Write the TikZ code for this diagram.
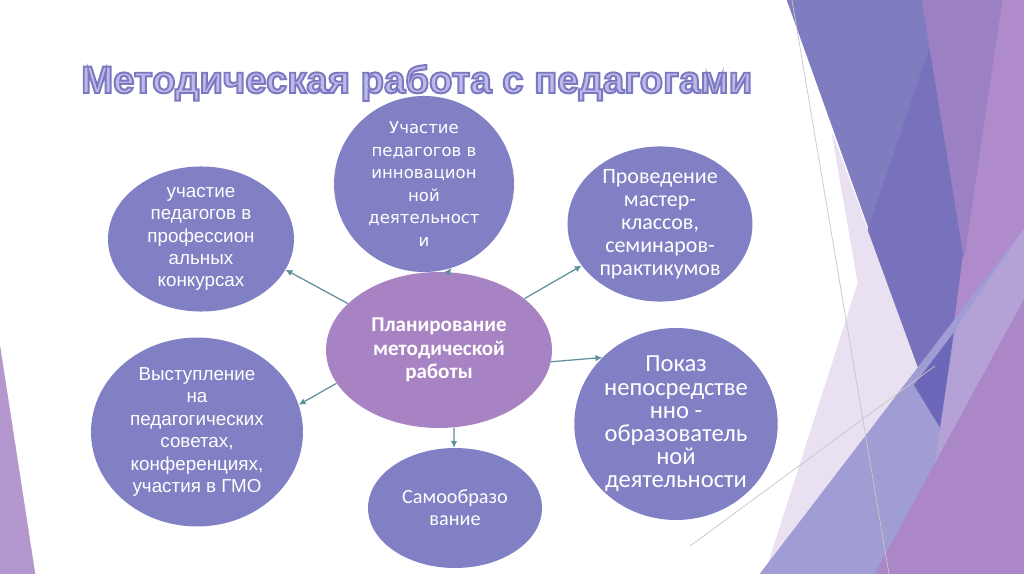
\documentclass[tikz,border=0pt]{standalone}
\usepackage{fontspec}
\setmainfont{Liberation Sans}
\newfontfamily\calfont{Carlito}
\newfontfamily\dvfont{DejaVu Sans}
\usepackage{tikz}
\usetikzlibrary{shapes.geometric}
\usetikzlibrary{arrows.meta}
\definecolor{ov-blue}{HTML}{8180C4}
\definecolor{ov-plan}{HTML}{A883C4}
\definecolor{ov-arrow}{HTML}{5E8F9B}
\definecolor{bg-blue}{HTML}{7F7CC0}
\definecolor{bg-dblue}{HTML}{7872BC}
\definecolor{bg-mpurp}{HTML}{9B80C4}
\definecolor{bg-lpurp}{HTML}{B08BCB}
\definecolor{bg-lav}{HTML}{E9E0F1}
\definecolor{bg-band}{HTML}{A09CD4}
\definecolor{bg-bandl}{HTML}{B4A1D5}
\definecolor{bg-deep}{HTML}{6C67B9}
\definecolor{bg-lr}{HTML}{AB87C8}
\definecolor{bg-side}{HTML}{B497CF}
\definecolor{title-fill}{HTML}{BDB9E8}
% outlined title text (stroke colour 7A78C0)
\newcommand{\outlined}[1]{\textcolor{title-fill}{%
  \special{pdf:literal direct 0.478 0.471 0.753 RG 1.1 w 2 Tr}#1%
  \special{pdf:literal direct 0 Tr}}}

\begin{document}
\begin{tikzpicture}[
    x=0.02cm, y=-0.02cm,
    >={Latex[length=3.8pt,width=3.8pt]}
  ]
  \tikzset{
    oval/.style={ellipse, fill=ov-blue, text=white, align=center, inner sep=0pt},
    arrow/.style={->, ov-arrow, line width=0.7pt},
    facet/.style={fill=#1, draw=#1, line width=0.3pt}
  }
  \useasboundingbox (0,0) rectangle (1024,574);
  \fill[white] (0,0) rectangle (1024,574);

  % background facets
  \path[facet=bg-side] (0,347) -- (35,574) -- (0,574) -- cycle;
  \path[facet=bg-lpurp] (997,0) -- (1024,0) -- (1024,574) -- (915,574) -- (936,427) -- (955,258) -- cycle;
  \path[facet=bg-lav] (832,133) -- (940,427) -- (919,574) -- (765,574) -- (858,283) -- cycle;
  \path[facet=bg-blue] (787,0) -- (922,0) -- (963,250) -- (940,427) -- cycle;
  \path[facet=bg-dblue] (930,47) -- (868,230) -- (940,427) -- (963,250) -- cycle;
  \path[facet=bg-mpurp] (922,0) -- (1002,0) -- (964,258) -- cycle;
  \path[facet=bg-band] (760,574) -- (1024,229) -- (1024,300) -- (875,574) -- cycle;
  \path[facet=bg-deep] (914.3,385) -- (953.2,334) -- (940,427) -- cycle;
  \path[facet=bg-bandl] (956,329) -- (1024,229) -- (1024,300) -- (935,463) -- cycle;
  \path[facet=bg-lr] (875,574) -- (1024,574) -- (1024,300) -- cycle;
  \draw[black!22, line width=0.4pt] (792,0) -- (889,574);
  \draw[black!22, line width=0.4pt] (690,546) -- (935,366);

  % title
  \node (title) [anchor=base west, font=\fontsize{21.8}{26}\selectfont\bfseries] at (75,93)
    {\outlined{Методическая работа с педагогами}};

  % ovals
  \node (plan) [oval, fill=ov-plan, minimum width=4.52cm, minimum height=3.12cm,
    font=\calfont\bfseries\fontsize{12}{13.3}\selectfont] at (439,350)
    {Планирование\\методической\\работы};
  \node (konk) [oval, minimum width=3.72cm, minimum height=2.76cm,
    font=\fontsize{10.7}{12.6}\selectfont] at (201,239)
    {участие\\педагогов в\\профессион\\альных\\конкурсах};
  \node (innov) [oval, minimum width=3.6cm, minimum height=2.84cm,
    font=\dvfont\fontsize{9.4}{12.8}\selectfont] at (424,184)
    {Участие\\педагогов в\\инновацион\\ной\\деятельност\\и};
  \node (master) [oval, minimum width=3.7cm, minimum height=3.04cm,
    font=\calfont\fontsize{12.5}{13.1}\selectfont] at (660,224)
    {Проведение\\мастер-\\классов,\\семинаров-\\практикумов};
  \node (pokaz) [oval, minimum width=4cm, minimum height=3.16cm,
    font=\calfont\fontsize{14}{13.2}\selectfont] at (676,424)
    {Показ\\непосредстве\\нно -\\образователь\\ной\\деятельности};
  \node (vyst) [oval, minimum width=4.24cm, minimum height=3.78cm,
    font=\fontsize{10.7}{12.8}\selectfont] at (197,432)
    {Выступление\\на\\педагогических\\советах,\\конференциях,\\участия в ГМО};
  \node (samo) [oval, minimum width=3.48cm, minimum height=2.4cm,
    font=\calfont\fontsize{11.5}{12.6}\selectfont] at (455,508)
    {Самообразо\\вание};

  % arrows
  \draw[arrow] (plan.153) -- (konk.340);
  \draw[arrow] (plan.83) -- (innov.288);
  \draw[arrow] (plan.31) -- (master.208);
  \draw[arrow] (plan.354) -- (pokaz.138);
  \draw[arrow] (plan.198) -- (vyst.15);
  \draw[arrow] (plan.281) -- (samo.91);
\end{tikzpicture}
\end{document}
